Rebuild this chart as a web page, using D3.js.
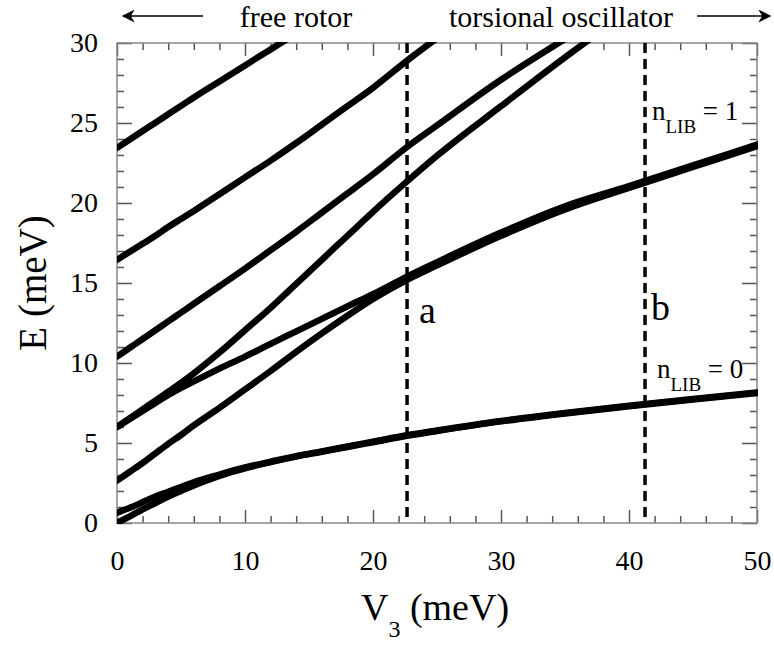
<!DOCTYPE html>
<html>
<head>
<meta charset="utf-8">
<script src="https://cdn.jsdelivr.net/npm/d3@7"></script>
<style>
  html, body { margin: 0; padding: 0; background: #fff; }
  svg { display: block; }
  text { font-family: "Liberation Serif", "Times New Roman", Times, serif; fill: #000; }
</style>
</head>
<body>
<svg id="chart" width="774" height="648"></svg>
<script>
// ---------- data ----------
const v3Grid = [0, 1, 2, 3, 4, 5, 6, 8, 10, 12, 14, 16, 18, 20, 22.66, 25, 30, 35, 40, 45, 50];

const groundA   = [0, 0.42, 0.85, 1.25, 1.65, 2.0, 2.35, 2.95, 3.42, 3.8, 4.15, 4.45, 4.75, 5.05, 5.45, 5.75, 6.35, 6.85, 7.3, 7.72, 8.12];
const groundE   = [0.65, 0.95, 1.3, 1.65, 1.95, 2.25, 2.55, 3.03, 3.47, 3.83, 4.18, 4.48, 4.78, 5.08, 5.48, 5.78, 6.38, 6.88, 7.33, 7.75, 8.15];
const level2E   = [2.65, 3.2, 3.75, 4.35, 4.95, 5.5, 6.1, 7.2, 8.35, 9.5, 10.7, 11.85, 12.95, 14.0, 15.2, 16.1, 17.95, 19.6, 20.95, 22.25, 23.55];
const level3Alo = [6.0, 6.5, 7.0, 7.5, 8.0, 8.45, 8.85, 9.65, 10.4, 11.2, 11.98, 12.76, 13.54, 14.3, 15.4, 16.3, 18.15, 19.8, 21.05, 22.35, 23.65];
const level3Ahi = [6.0, 6.55, 7.1, 7.65, 8.2, 8.75, 9.35, 10.65, 12.05, 13.45, 14.95, 16.45, 17.95, 19.45, 21.35, 22.95, 26.05, 29.1, 32.0, null, null];
const level4E   = [10.4, 10.95, 11.5, 12.05, 12.6, 13.15, 13.7, 14.8, 15.9, 17.05, 18.2, 19.4, 20.6, 21.8, 23.5, 24.85, 27.7, 30.25, null, null, null];
const level5E   = [16.45, 16.95, 17.45, 17.95, 18.5, 19.0, 19.5, 20.55, 21.6, 22.65, 23.75, 24.9, 26.05, 27.2, 28.9, 30.3, null, null, null, null, null];
const level6A   = [23.45, 23.97, 24.5, 25.02, 25.55, 26.07, 26.6, 27.6, 28.6, 29.6, 30.6, null, null, null, null, null, null, null, null, null, null];

const levels = [groundA, groundE, level2E, level3Alo, level3Ahi, level4E, level5E, level6A];

const markerV3 = [22.66, 41.25];
const markerLabels = ["a", "b"];

const xMajor = [0, 10, 20, 30, 40, 50];
const xMinor = [2, 4, 6, 8, 12, 14, 16, 18, 22, 24, 26, 28, 32, 34, 36, 38, 42, 44, 46, 48];
const yMajor = [0, 5, 10, 15, 20, 25, 30];
const yMinor = [1, 2, 3, 4, 6, 7, 8, 9, 11, 12, 13, 14, 16, 17, 18, 19, 21, 22, 23, 24, 26, 27, 28, 29];

// ---------- layout ----------
const svg = d3.select("#chart");
const L = 117, R = 757, T = 43, B = 523;
const x = d3.scaleLinear().domain([0, 50]).range([L, R]);
const y = d3.scaleLinear().domain([0, 30]).range([B, T]);

const tickColor = "#555";
function styleAxis(g) {
  g.select(".domain").remove();
  g.attr("font-family", null).attr("font-size", null);
  g.selectAll(".tick line").attr("stroke", tickColor).attr("stroke-width", 1.5);
}

// minor ticks
svg.append("g").attr("transform", `translate(0,${B})`)
  .call(d3.axisBottom(x).tickValues(xMinor).tickSize(-7).tickFormat(""))
  .call(styleAxis);
svg.append("g").attr("transform", `translate(0,${T})`)
  .call(d3.axisTop(x).tickValues(xMinor).tickSize(-7).tickFormat(""))
  .call(styleAxis);
svg.append("g").attr("transform", `translate(${L},0)`)
  .call(d3.axisLeft(y).tickValues(yMinor).tickSize(-7).tickFormat(""))
  .call(styleAxis);
svg.append("g").attr("transform", `translate(${R},0)`)
  .call(d3.axisRight(y).tickValues(yMinor).tickSize(-7).tickFormat(""))
  .call(styleAxis);

// major ticks with labels
const xAxisB = svg.append("g").attr("transform", `translate(0,${B})`)
  .call(d3.axisBottom(x).tickValues(xMajor).tickSize(-13).tickPadding(27).tickFormat(d3.format("d")))
  .call(styleAxis);
xAxisB.selectAll("text").style("font-size", "28px").attr("fill", "#000");
svg.append("g").attr("transform", `translate(0,${T})`)
  .call(d3.axisTop(x).tickValues(xMajor).tickSize(-13).tickFormat(""))
  .call(styleAxis);
const yAxisL = svg.append("g").attr("transform", `translate(${L},0)`)
  .call(d3.axisLeft(y).tickValues(yMajor).tickSize(-15).tickPadding(19).tickFormat(d3.format("d")))
  .call(styleAxis);
yAxisL.selectAll("text").style("font-size", "28px").attr("fill", "#000");
svg.append("g").attr("transform", `translate(${R},0)`)
  .call(d3.axisRight(y).tickValues(yMajor).tickSize(-15).tickFormat(""))
  .call(styleAxis);

// frame
svg.append("rect").attr("x", L).attr("y", T).attr("width", R - L).attr("height", B - T)
  .attr("fill", "none").attr("stroke", "#888").attr("stroke-width", 1.5);

// clip
svg.append("clipPath").attr("id", "plotclip")
  .append("rect").attr("x", L).attr("y", T - 1).attr("width", R - L + 1).attr("height", B - T + 2);

const line = d3.line()
  .defined(d => d[1] !== null)
  .x(d => x(d[0])).y(d => y(d[1]))
  .curve(d3.curveMonotoneX);

const curves = svg.append("g").attr("clip-path", "url(#plotclip)");
levels.forEach(vals => {
  const pts = v3Grid.map((v, i) => [v, vals[i]]);
  curves.append("path").attr("d", line(pts))
    .attr("fill", "none").attr("stroke", "#000").attr("stroke-width", 6.5)
    .attr("stroke-linecap", "round").attr("stroke-linejoin", "round");
});

// dashed markers
markerV3.forEach((v, i) => {
  svg.append("line").attr("x1", x(v)).attr("x2", x(v)).attr("y1", T).attr("y2", B - 4)
    .attr("stroke", "#000").attr("stroke-width", 3.5).attr("stroke-dasharray", "10,6");
  svg.append("text").attr("x", x(v) + (i === 0 ? 12 : 6)).attr("y", i === 0 ? 323 : 320)
    .style("font-size", "38px").text(markerLabels[i]);
});

// n_LIB labels
function nlib(xp, yp, val) {
  const t = svg.append("text").attr("x", xp).attr("y", yp).style("font-size", "27px");
  t.append("tspan").text("n");
  t.append("tspan").attr("dy", 13).style("font-size", "19px").text("LIB");
  t.append("tspan").attr("dy", -13).text(" = " + val);
}
nlib(652, 120, 1);
nlib(657, 378, 0);

// axis titles
const xt = svg.append("text").attr("x", 435).attr("y", 620).attr("text-anchor", "middle")
  .style("font-size", "38px");
xt.append("tspan").text("V");
xt.append("tspan").attr("dy", 17).style("font-size", "24px").text("3");
xt.append("tspan").attr("dy", -17).text(" (meV)");

svg.append("text").attr("transform", `translate(46,${(T + B) / 2}) rotate(-90)`)
  .attr("text-anchor", "middle").style("font-size", "39px").text("E (meV)");

// top annotation
svg.append("text").attr("x", 296).attr("y", 27).attr("text-anchor", "middle")
  .style("font-size", "30px").text("free rotor");
svg.append("text").attr("x", 561).attr("y", 27).attr("text-anchor", "middle")
  .style("font-size", "30px").text("torsional oscillator");

svg.append("defs").append("marker").attr("id", "ah").attr("viewBox", "0 0 10 10")
  .attr("refX", 9).attr("refY", 5).attr("markerWidth", 16).attr("markerHeight", 13)
  .attr("markerUnits", "userSpaceOnUse").attr("orient", "auto")
  .append("path").attr("d", "M0,0 L10,5 L0,10 L3,5 Z").attr("fill", "#000");
svg.append("line").attr("x1", 203).attr("x2", 123).attr("y1", 16).attr("y2", 16)
  .attr("stroke", "#000").attr("stroke-width", 1.5).attr("marker-end", "url(#ah)");
svg.append("line").attr("x1", 697).attr("x2", 770).attr("y1", 16).attr("y2", 16)
  .attr("stroke", "#000").attr("stroke-width", 1.5).attr("marker-end", "url(#ah)");
</script>
</body>
</html>
